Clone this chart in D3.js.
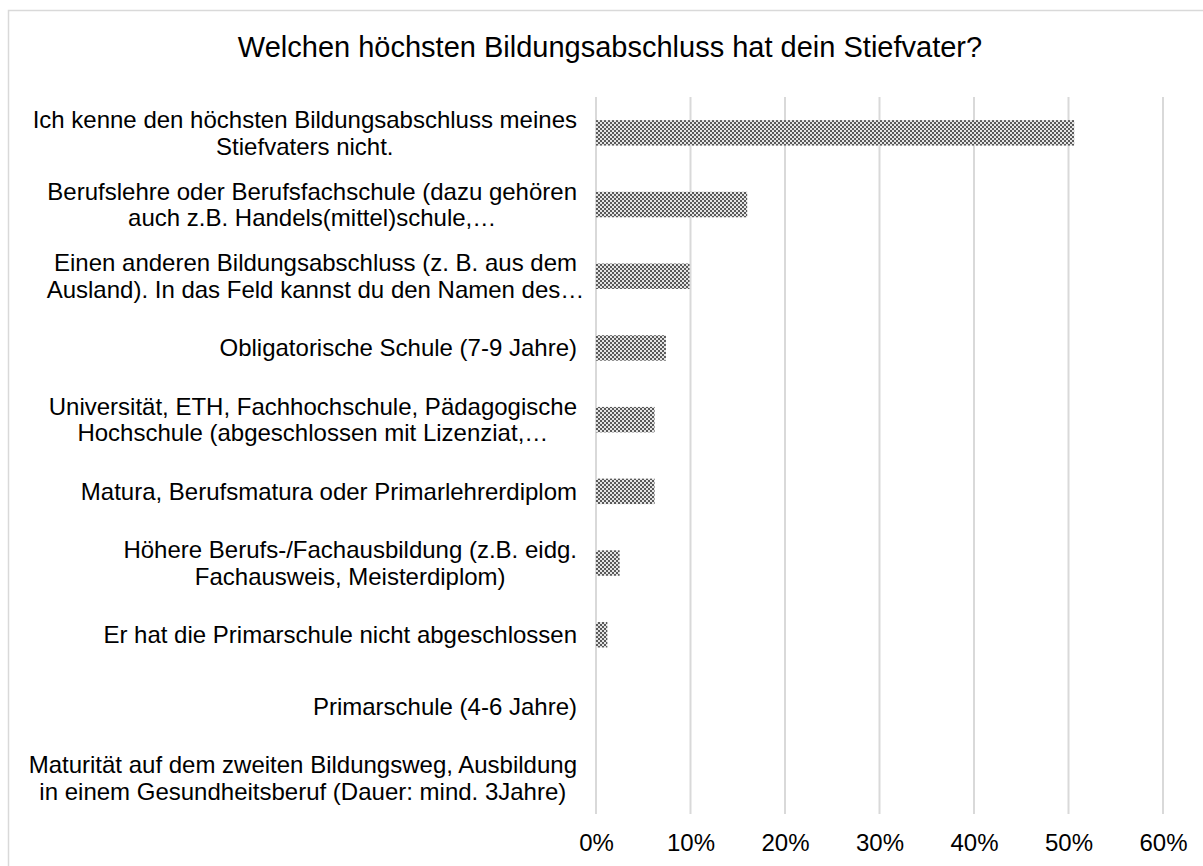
<!DOCTYPE html>
<html>
<head>
<meta charset="utf-8">
<script src="https://cdn.jsdelivr.net/npm/d3@7"></script>
<style>
  body { margin: 0; background: #fff; }
  text { font-family: "Liberation Sans", Arial, sans-serif; fill: #000; }
</style>
</head>
<body>
<svg id="chart" width="1203" height="866"></svg>
<script>
// categories, top to bottom (each entry = lines of the wrapped label)
var categories = [
  ["Ich kenne den höchsten Bildungsabschluss meines", "Stiefvaters nicht."],
  ["Berufslehre oder Berufsfachschule (dazu gehören", "auch z.B. Handels(mittel)schule,…"],
  ["Einen anderen Bildungsabschluss (z. B. aus dem", "Ausland). In das Feld kannst du den Namen des…"],
  ["Obligatorische Schule (7-9 Jahre)"],
  ["Universität, ETH, Fachhochschule, Pädagogische", "Hochschule (abgeschlossen mit Lizenziat,…"],
  ["Matura, Berufsmatura oder Primarlehrerdiplom"],
  ["Höhere Berufs-/Fachausbildung (z.B. eidg.", "Fachausweis, Meisterdiplom)"],
  ["Er hat die Primarschule nicht abgeschlossen"],
  ["Primarschule (4-6 Jahre)"],
  ["Maturität auf dem zweiten Bildungsweg, Ausbildung", "in einem Gesundheitsberuf (Dauer: mind. 3Jahre)"]
];
var values = [50.6, 16.0, 9.9, 7.4, 6.2, 6.2, 2.5, 1.2, 0, 0];
var tickValues = [0, 10, 20, 30, 40, 50, 60];
var title = "Welchen höchsten Bildungsabschluss hat dein Stiefvater?";

var svg = d3.select("#chart");
var plot = {left: 596, right: 1163, top: 97, bottom: 814};

// frame (only top and left edges are inside the picture)
svg.append("rect")
    .attr("x", 8.5).attr("y", 10.5)
    .attr("width", 1210).attr("height", 880)
    .style("fill", "#fff")
    .style("stroke", "#d9d9d9")
    .style("stroke-width", 1.5);

// checker pattern for the bars
var defs = svg.append("defs");
var pat = defs.append("pattern")
    .attr("id", "checker")
    .attr("patternUnits", "userSpaceOnUse")
    .attr("width", 4).attr("height", 4);
pat.append("rect").attr("width", 4).attr("height", 4).style("fill", "#e4e4e4");
pat.append("rect").attr("width", 2).attr("height", 2).style("fill", "#595959");
pat.append("rect").attr("x", 2).attr("y", 2).attr("width", 2).attr("height", 2).style("fill", "#595959");

var x = d3.scaleLinear()
    .domain([0, 60])
    .range([plot.left, plot.right]);

var y = d3.scaleBand()
    .domain(d3.range(categories.length))
    .range([plot.top, plot.bottom])
    .paddingInner(0.645)
    .paddingOuter(0.3225);

// gridlines
svg.append("g").selectAll("line")
    .data(tickValues)
  .enter().append("line")
    .attr("x1", function(d) { return x(d); })
    .attr("x2", function(d) { return x(d); })
    .attr("y1", plot.top)
    .attr("y2", plot.bottom)
    .style("stroke", "#d9d9d9")
    .style("stroke-width", 2);

// x axis labels
var xAxis = svg.append("g")
    .attr("transform", "translate(0," + plot.bottom + ")")
    .call(d3.axisBottom(x)
      .tickValues(tickValues)
      .tickSize(0)
      .tickPadding(20)
      .tickFormat(function(d) { return d + "%"; }));
xAxis.select(".domain").remove();
xAxis.selectAll("text")
    .style("font-size", "24px")
    .style("fill", "#000")
    .attr("font-family", null);

// bars
svg.append("g").selectAll("rect")
    .data(values)
  .enter().append("rect")
    .attr("x", x(0))
    .attr("y", function(d, i) { return y(i); })
    .attr("width", function(d) { return x(d) - x(0); })
    .attr("height", y.bandwidth())
    .style("fill", "url(#checker)");

// category labels: block right aligned, lines centred inside block
// (block width measured without trailing ellipsis, like the original)
var labelRight = 577, lineH = 26.5;
var lab = svg.append("g").selectAll("g")
    .data(categories)
  .enter().append("g")
    .attr("transform", function(d, i) { return "translate(0," + (y(i) + y.bandwidth() / 2) + ")"; });

lab.each(function(lines) {
  var g = d3.select(this);
  var t = g.selectAll("text")
      .data(lines)
    .enter().append("text")
      .style("font-size", "24px")
      .attr("text-anchor", "middle")
      .attr("y", function(d, j) { return (j - (lines.length - 1) / 2) * lineH; })
      .attr("dy", "0.35em")
      .text(function(d) { return d; });
  var w = 0;
  t.each(function(d) {
    var full = this.getComputedTextLength();
    if (d.slice(-1) === "…") full -= this.getSubStringLength(d.length - 1, 1);
    w = Math.max(w, full);
  });
  t.attr("x", labelRight - w / 2);
});

// title
svg.append("text")
    .attr("x", 610)
    .attr("y", 57)
    .attr("text-anchor", "middle")
    .style("font-size", "29px")
    .text(title);
</script>
</body>
</html>
